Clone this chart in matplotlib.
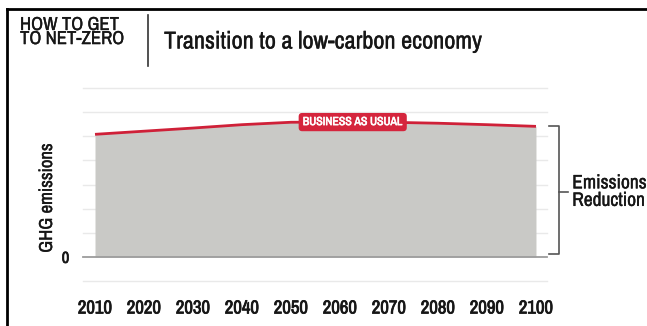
import numpy as np
import matplotlib.pyplot as plt
import matplotlib.patheffects as pe
from matplotlib.lines import Line2D

# Business-as-usual emissions path (arbitrary units, one grid step = 1)
years = [2010, 2020, 2030, 2040, 2050, 2060, 2070, 2080, 2090, 2100]
bau = [5.08, 5.21, 5.34, 5.48, 5.58, 5.59, 5.58, 5.54, 5.48, 5.41]
grid_levels = list(range(-1, 8))
year_labels = [str(y) for y in years]

plt.rcParams['font.family'] = ['Archivo Narrow', 'Liberation Sans', 'DejaVu Sans']

INK = '#161616'
heavy = [pe.withStroke(linewidth=0.55, foreground=INK)]
medium = [pe.withStroke(linewidth=0.25, foreground=INK)]

W, H = 647, 326
fig = plt.figure(figsize=(W / 100, H / 100), dpi=100)
fig.patch.set_facecolor('white')


def fx(px):
    return px / W


def fy(py):
    return 1 - py / H


ax = fig.add_axes([fx(83), fy(281), fx(547) - fx(83), fy(88) - fy(281)])
ax.set_xlim(2007.55, 2102.25)
ax.set_ylim(-1, 7)

for lv in grid_levels:
    if lv == 0:
        ax.axhline(lv, color='#9c9c9c', lw=1.3, zorder=4, clip_on=False)
    else:
        ax.axhline(lv, color='#e9e9e9', lw=1, zorder=0, clip_on=False)

ax.fill_between(years, bau, 0, color='#c9c9c6', lw=0, zorder=1)
ax.plot(years, bau, color='#cf2038', lw=2, zorder=3, solid_capstyle='butt')

# label sitting on the line
lx = 2062.6
ax.text(lx, np.interp(lx, years, bau), 'BUSINESS AS USUAL', color='white',
        fontsize=8.5, fontweight='bold', ha='center', va='center', zorder=5,
        path_effects=[pe.withStroke(linewidth=0.45, foreground='white')],
        bbox=dict(boxstyle='round,pad=0.35,rounding_size=0.3', fc='#d5253d', ec='none'))

for s in ax.spines.values():
    s.set_visible(False)
ax.set_xticks(years)
ax.set_xticklabels(year_labels, fontsize=13.5, color=INK, path_effects=heavy)
ax.set_yticks([0])
ax.set_yticklabels(['0'], fontsize=11.5, color=INK, path_effects=heavy)
ax.tick_params(axis='x', length=0, pad=14)
ax.tick_params(axis='y', length=0, pad=10)

# bracket showing the reduction needed down to zero
top, bot = bau[-1], 0.12
bx0, bx1, bx2 = 2102.7, 2104.7, 2106.5
bk = dict(color='#555555', lw=1.2, clip_on=False, zorder=5)
ax.plot([bx0, bx1, bx1, bx0], [top, top, bot, bot], **bk)
ax.plot([bx1, bx2], [top / 2, top / 2], **bk)
ax.text(2107.4, top / 2, 'Emissions\nReduction', fontsize=14, ha='left', va='center',
        linespacing=0.9, color=INK, clip_on=False, path_effects=medium)

fig.text(fx(47), fy(198), 'GHG emissions', rotation=90, fontsize=13.5,
         ha='center', va='center', color=INK, path_effects=medium)

# header
fig.text(fx(20), fy(17), 'HOW TO GET\nTO NET-ZERO', fontsize=13.5, ha='left', va='top',
         linespacing=0.85, color=INK, path_effects=medium)
fig.add_artist(Line2D([fx(148), fx(148)], [fy(15), fy(66)], color='#333333', lw=1.2))
fig.text(fx(164), fy(42), 'Transition to a low-carbon economy', fontsize=17.5,
         ha='left', va='center', color=INK, path_effects=medium)

# frame edges
fig.add_artist(Line2D([fx(7), 1], [fy(9), fy(9)], color='black', lw=2))
fig.add_artist(Line2D([fx(7), fx(7)], [0, fy(9)], color='black', lw=2))

fig.savefig('out.png', dpi=100)
